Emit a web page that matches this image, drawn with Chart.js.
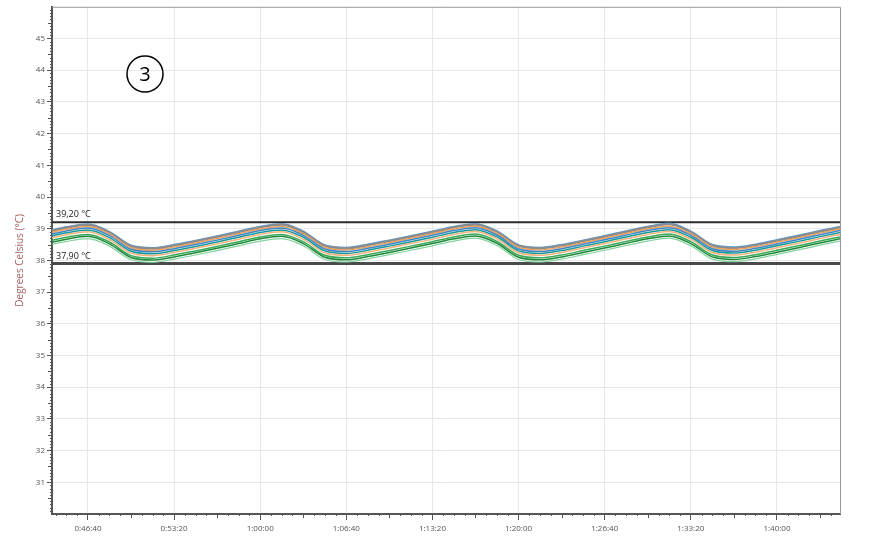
<!DOCTYPE html>
<html>
<head>
<meta charset="utf-8">
<script src="https://cdn.jsdelivr.net/npm/chart.js@4.4.1/dist/chart.umd.min.js"></script>
<style>
    html, body { margin: 0; padding: 0; background: #fff; }
</style>
</head>
<body>
<canvas id="myChart" width="883" height="542"></canvas>
<script>
// elapsed time in seconds
const times = [2600, 2700, 2800, 2900, 3000, 3100, 3200, 3300, 3400, 3500,
    3600, 3700, 3800, 3900, 4000, 4100, 4200, 4300, 4400, 4500,
    4600, 4700, 4800, 4900, 5000, 5100, 5200, 5300, 5400, 5500,
    5600, 5700, 5800, 5900, 6000, 6100, 6200, 6300];

const blueTop = [38.91, 39.06, 39.15, 38.91, 38.48, 38.40, 38.50, 38.63, 38.77, 38.92,
    39.07, 39.16, 38.92, 38.49, 38.41, 38.51, 38.64, 38.78, 38.92, 39.07,
    39.16, 38.93, 38.49, 38.41, 38.50, 38.64, 38.78, 38.93, 39.07, 39.17,
    38.92, 38.50, 38.42, 38.51, 38.65, 38.79, 38.94, 39.08];
const grayTop = [38.88, 39.03, 39.12, 38.88, 38.45, 38.37, 38.47, 38.60, 38.74, 38.89,
    39.04, 39.13, 38.89, 38.46, 38.38, 38.48, 38.61, 38.75, 38.89, 39.04,
    39.13, 38.90, 38.46, 38.38, 38.47, 38.61, 38.75, 38.90, 39.04, 39.14,
    38.89, 38.47, 38.39, 38.48, 38.62, 38.76, 38.91, 39.05];
const orange1 = [38.83, 38.98, 39.07, 38.83, 38.40, 38.32, 38.42, 38.55, 38.69, 38.84,
    38.99, 39.07, 38.84, 38.41, 38.33, 38.43, 38.56, 38.70, 38.84, 38.99,
    39.08, 38.85, 38.41, 38.33, 38.42, 38.56, 38.70, 38.85, 38.99, 39.08,
    38.84, 38.42, 38.34, 38.43, 38.57, 38.71, 38.86, 39.00];
const blueMid = [38.78, 38.93, 39.02, 38.78, 38.35, 38.27, 38.37, 38.50, 38.64, 38.79,
    38.94, 39.02, 38.79, 38.36, 38.28, 38.38, 38.51, 38.65, 38.79, 38.94,
    39.03, 38.80, 38.36, 38.28, 38.37, 38.51, 38.65, 38.80, 38.94, 39.03,
    38.79, 38.37, 38.29, 38.38, 38.52, 38.66, 38.81, 38.95];
const teal = [38.72, 38.87, 38.96, 38.72, 38.29, 38.21, 38.31, 38.44, 38.58, 38.73,
    38.88, 38.96, 38.73, 38.30, 38.22, 38.32, 38.45, 38.59, 38.73, 38.88,
    38.97, 38.74, 38.30, 38.22, 38.31, 38.45, 38.59, 38.74, 38.88, 38.97,
    38.73, 38.31, 38.23, 38.32, 38.46, 38.60, 38.75, 38.89];
const orange2 = [38.66, 38.81, 38.90, 38.66, 38.23, 38.15, 38.25, 38.38, 38.52, 38.67,
    38.82, 38.90, 38.67, 38.24, 38.16, 38.26, 38.39, 38.53, 38.67, 38.82,
    38.91, 38.68, 38.24, 38.16, 38.25, 38.39, 38.53, 38.68, 38.82, 38.91,
    38.67, 38.25, 38.17, 38.26, 38.40, 38.54, 38.69, 38.83];
const green = [38.58, 38.73, 38.82, 38.58, 38.15, 38.07, 38.17, 38.30, 38.44, 38.59,
    38.74, 38.82, 38.59, 38.16, 38.08, 38.18, 38.31, 38.45, 38.59, 38.74,
    38.83, 38.60, 38.16, 38.08, 38.17, 38.31, 38.45, 38.60, 38.74, 38.83,
    38.59, 38.17, 38.09, 38.18, 38.32, 38.46, 38.61, 38.75];
const darkGreen = [38.52, 38.67, 38.76, 38.52, 38.09, 38.01, 38.11, 38.24, 38.38, 38.53,
    38.68, 38.76, 38.53, 38.10, 38.02, 38.12, 38.25, 38.39, 38.53, 38.68,
    38.77, 38.54, 38.10, 38.02, 38.11, 38.25, 38.39, 38.54, 38.68, 38.77,
    38.53, 38.11, 38.03, 38.12, 38.26, 38.40, 38.55, 38.69];
const lightGreen = [38.45, 38.60, 38.69, 38.45, 38.02, 37.94, 38.04, 38.17, 38.31, 38.46,
    38.61, 38.69, 38.46, 38.03, 37.95, 38.05, 38.18, 38.32, 38.46, 38.61,
    38.70, 38.47, 38.03, 37.95, 38.04, 38.18, 38.32, 38.47, 38.61, 38.70,
    38.46, 38.04, 37.96, 38.05, 38.19, 38.33, 38.48, 38.62];

const limitValues = [39.2, 37.9];
const limitLabels = ["39,20 °C", "37,90 °C"];

// tick positions
const xTicks = [2800, 3200, 3600, 4000, 4400, 4800, 5200, 5600, 6000];
const yTicks = [31, 32, 33, 34, 35, 36, 37, 38, 39, 40, 41, 42, 43, 44, 45];

const xMin = 2633;
const xMax = 6293;

function hms(s) {
    const h = Math.floor(s / 3600);
    const m = Math.floor((s % 3600) / 60);
    const sec = Math.round(s % 60);
    return h + ":" + String(m).padStart(2, "0") + ":" + String(sec).padStart(2, "0");
}

function series(vals, color, width) {
    return {
        data: times.map((t, i) => ({ x: t, y: vals[i] })),
        borderColor: color,
        borderWidth: width,
        pointRadius: 0,
        fill: false,
        cubicInterpolationMode: "monotone"
    };
}

function limit(v) {
    return {
        data: [{ x: xMin, y: v }, { x: xMax, y: v }],
        borderColor: v > 38.5 ? "#2b2b2b" : "#4a4a4a",
        borderWidth: v > 38.5 ? 2 : 3,
        pointRadius: 0,
        fill: false
    };
}

// minor ticks, limit labels, axis title and the circled marker
const extras = {
    id: "extras",
    afterDraw(chart) {
        const ctx = chart.ctx;
        const xs = chart.scales.x;
        const ys = chart.scales.y;
        const a = chart.chartArea;
        ctx.save();
        ctx.strokeStyle = "#555";
        ctx.lineWidth = 1;
        ctx.beginPath();
        for (let v = 2650; v < xMax; v += 50) {
            if (v % 400 === 0) continue;
            const len = v % 200 === 0 ? 4 : 2;
            const px = Math.round(xs.getPixelForValue(v)) + 0.5;
            ctx.moveTo(px, a.bottom);
            ctx.lineTo(px, a.bottom + len);
        }
        for (let i = 301; i < 460; i++) {
            if (i % 10 === 0) continue;
            const len = i % 5 === 0 ? 4 : 2;
            const py = Math.round(ys.getPixelForValue(i / 10)) + 0.5;
            ctx.moveTo(a.left, py);
            ctx.lineTo(a.left - len, py);
        }
        ctx.stroke();

        // limit labels
        ctx.fillStyle = "#222";
        ctx.font = "9px 'Open Sans'";
        ctx.textBaseline = "bottom";
        ctx.textAlign = "left";
        limitValues.forEach((v, i) => {
            ctx.fillText(limitLabels[i], a.left + 4, ys.getPixelForValue(v) - 3);
        });

        // axis title
        ctx.save();
        ctx.translate(20, (a.top + a.bottom) / 2);
        ctx.rotate(-Math.PI / 2);
        ctx.textAlign = "center";
        ctx.textBaseline = "middle";
        ctx.fillStyle = "#a86262";
        ctx.font = "10px 'Open Sans'";
        ctx.fillText("Degrees Celsius (°C)", 0, 0);
        ctx.restore();

        // circled 3
        ctx.beginPath();
        ctx.arc(145, 74, 18, 0, Math.PI * 2);
        ctx.strokeStyle = "#000";
        ctx.lineWidth = 1.5;
        ctx.stroke();
        ctx.fillStyle = "#000";
        ctx.font = "20px 'Open Sans'";
        ctx.textAlign = "center";
        ctx.textBaseline = "middle";
        ctx.fillText("3", 145, 75);

        // right and top border
        ctx.strokeStyle = "#9a9a9a";
        ctx.lineWidth = 1;
        ctx.beginPath();
        ctx.moveTo(a.left, a.top + 0.5);
        ctx.lineTo(a.right + 0.5, a.top + 0.5);
        ctx.lineTo(a.right + 0.5, a.bottom);
        ctx.stroke();
        ctx.restore();
    }
};

const ctx = document.getElementById("myChart").getContext("2d");
const myChart = new Chart(ctx, {
    type: "line",
    data: {
        datasets: [
            series(lightGreen, "rgba(120, 205, 150, 0.9)", 1.2),
            series(darkGreen, "#1f8a3c", 1.5),
            series(green, "#3aa858", 1.5),
            series(orange2, "#f3b27c", 1.5),
            series(teal, "#17999b", 1.5),
            series(blueMid, "#3f86c6", 1.5),
            series(orange1, "#f0a25c", 1.5),
            series(grayTop, "#8c8c8c", 2.2),
            series(blueTop, "#5b9bd5", 1.5),
            limit(limitValues[0]),
            limit(limitValues[1])
        ]
    },
    options: {
        responsive: false,
        animation: false,
        layout: { padding: { top: 5, right: 43, left: 0, bottom: 0 } },
        plugins: {
            legend: { display: false },
            tooltip: { enabled: false }
        },
        scales: {
            x: {
                type: "linear",
                min: xMin,
                max: xMax,
                afterBuildTicks: scale => { scale.ticks = xTicks.map(v => ({ value: v })); },
                afterFit: scale => { scale.height = 28; },
                ticks: {
                    maxRotation: 0,
                    autoSkip: false,
                    padding: 4,
                    color: "#555",
                    font: { size: 8, family: "'Open Sans'" },
                    callback: v => hms(v)
                },
                grid: { color: "#e8e8e8", tickColor: "#555", tickLength: 6 },
                border: { color: "#555", width: 2 }
            },
            y: {
                min: 30,
                max: 46,
                afterBuildTicks: scale => { scale.ticks = yTicks.map(v => ({ value: v })); },
                afterFit: scale => { scale.width = 52; },
                ticks: {
                    padding: 2,
                    color: "#555",
                    font: { size: 8, family: "'Open Sans'" }
                },
                grid: { color: "#e8e8e8", tickColor: "#555", tickLength: 5 },
                border: { color: "#555", width: 2 }
            }
        }
    },
    plugins: [extras]
});
</script>
</body>
</html>
